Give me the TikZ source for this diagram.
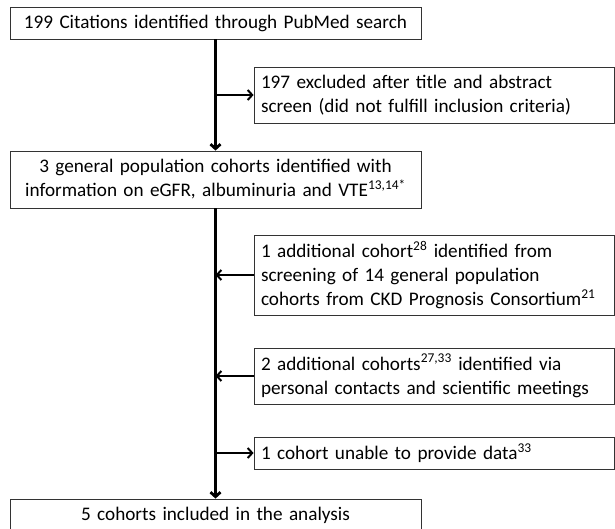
\documentclass[tikz,border=0pt]{standalone}
\usepackage{fontspec}
\setmainfont{Carlito}[WordSpace=0.9]
\usetikzlibrary{arrows.meta}

\begin{document}
\begin{tikzpicture}[x=1pt, y=-1pt,
		>={Straight Barb[length=4.5pt, width=10pt]},
		box/.style={draw=black!80, line width=0.9pt, inner ysep=0pt,
			font=\fontsize{19.2}{24}\selectfont},
		wide/.style={box, inner xsep=5pt, text width=401pt, align=center},
		side/.style={box, inner xsep=7pt, text width=346pt, align=left},
		trunk/.style={line width=2.8pt},
		branch/.style={line width=2pt}]
		\useasboundingbox (0, 0) rectangle (615, 528);
		% main column
		\node [wide, minimum height=32pt] (cit) at (215.5, 23) {199 Citations identified through PubMed search};
		\node [wide, minimum height=57pt] (gen) at (215.5, 179.5) {3 general population cohorts identified with\\ information on eGFR, albuminuria and VTE\textsuperscript{13,14*}};
		\node [wide, minimum height=32pt] (incl) at (215.5, 515) {5 cohorts included in the analysis};
		% side boxes
		\node [side, minimum height=56pt] (excl) at (434, 95) {197 excluded after title and abstract\\ screen (did not fulfill inclusion criteria)};
		\node [side, minimum height=80pt] (ckd) at (434, 275) {1 additional cohort\textsuperscript{28} identified from\\ screening of 14 general population\\ cohorts from CKD Prognosis Consortium\textsuperscript{21}};
		\node [side, minimum height=56pt] (pers) at (434, 376) {2 additional cohorts\textsuperscript{27,33} identified via\\ personal contacts and scientific meetings};
		\node [side, minimum height=32pt] (nodata) at (434, 453) {1 cohort unable to provide data\textsuperscript{33}};
		% arrows
		\draw [trunk, ->] (cit) -- (gen);
		\draw [trunk, ->] (gen) -- (incl);
		\draw [branch, ->] (cit.south |- excl.west) -- (excl.west);
		\draw [branch, ->] (ckd.west) -- (gen.south |- ckd.west);
		\draw [branch, ->] (pers.west) -- (gen.south |- pers.west);
		\draw [branch, ->] (gen.south |- nodata.west) -- (nodata.west);
	\end{tikzpicture}
\end{document}
